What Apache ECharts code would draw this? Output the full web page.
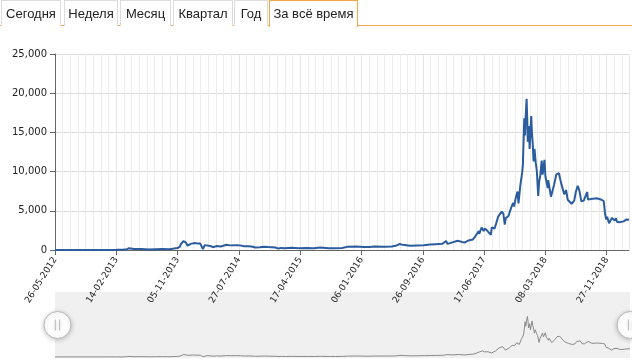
<!DOCTYPE html>
<html>
<head>
<meta charset="utf-8">
<script src="https://cdn.jsdelivr.net/npm/echarts@6/dist/echarts.min.js"></script>
<style>
  html, body { margin: 0; padding: 0; background: #fff; }
  body { width: 632px; height: 362px; overflow: hidden; position: relative; }
  #tabs { position: absolute; left: 0; top: 0; width: 632px; height: 26px; border-bottom: 1px solid #f0a848; box-sizing: border-box; }
  .tab { position: absolute; top: 0; height: 26px; box-sizing: border-box; border: 1px solid #dcdcdc; border-bottom: none;
         font-family: "Liberation Sans", Arial, sans-serif; font-size: 13px; color: #222; line-height: 25px; text-align: center; background: #fff; }
  .tab.active { border-color: #f0a848; height: 27px; }
  #chart { position: absolute; left: 0; top: 0; width: 632px; height: 362px; }
</style>
</head>
<body>
<div id="chart"></div>
<div id="tabs"></div>
<script>
const tabLabels = ["Сегодня", "Неделя", "Месяц", "Квартал", "Год", "За всё время"];
const tabLefts  = [1, 64, 120, 173, 234, 269];
const tabRights = [61, 118, 171, 233, 268, 358];
const activeTab = 5;

const startDate = "2012-05-26";
const endDate = "2019-03-03";
const labelStepDays = 264;

const dates = [
"2012-05-26","2012-07-15","2012-08-16","2012-08-20","2012-10-15","2012-12-31",
"2013-02-14","2013-03-15","2013-04-01","2013-04-10","2013-04-16","2013-05-01","2013-06-01","2013-07-05","2013-08-01","2013-09-01","2013-10-02","2013-10-20","2013-11-05","2013-11-15","2013-11-18","2013-11-30","2013-12-04","2013-12-10","2013-12-18","2013-12-23","2013-12-31",
"2014-01-06","2014-01-15","2014-01-31","2014-02-06","2014-02-10","2014-02-16","2014-02-22","2014-02-25","2014-03-02","2014-03-10","2014-03-25","2014-04-10","2014-04-20","2014-05-10","2014-06-03","2014-06-20","2014-07-15","2014-08-01","2014-08-18","2014-09-08","2014-09-25","2014-10-05","2014-10-25","2014-11-12","2014-12-01","2014-12-31",
"2015-01-14","2015-01-25","2015-02-10","2015-03-10","2015-04-14","2015-05-15","2015-06-15","2015-07-12","2015-08-18","2015-09-15","2015-10-15","2015-11-04","2015-11-11","2015-12-15",
"2016-01-15","2016-02-10","2016-03-01","2016-04-15","2016-05-15","2016-06-01","2016-06-17","2016-07-01","2016-08-02","2016-08-30","2016-09-30","2016-10-28","2016-11-20","2016-12-20",
"2017-01-04","2017-01-11","2017-01-31","2017-02-23","2017-03-03","2017-03-24","2017-04-10","2017-04-30","2017-05-10","2017-05-25","2017-05-27","2017-06-06","2017-06-11","2017-06-15","2017-06-20","2017-06-30","2017-07-08","2017-07-16","2017-07-20","2017-08-01","2017-08-08","2017-08-17","2017-08-22","2017-09-01","2017-09-08","2017-09-14","2017-09-18","2017-09-30","2017-10-12","2017-10-20","2017-10-24","2017-11-01","2017-11-08","2017-11-12","2017-11-20","2017-11-28","2017-12-01","2017-12-07","2017-12-10","2017-12-13","2017-12-17","2017-12-20","2017-12-22","2017-12-27","2017-12-30",
"2018-01-06","2018-01-09","2018-01-12","2018-01-16","2018-01-20","2018-01-25","2018-01-30","2018-02-05","2018-02-09","2018-02-14","2018-02-20","2018-02-24","2018-03-04","2018-03-08","2018-03-12","2018-03-18","2018-03-20","2018-04-01","2018-04-06","2018-04-15","2018-04-24","2018-05-05","2018-05-15","2018-05-28","2018-06-05","2018-06-12","2018-06-29","2018-07-10","2018-07-17","2018-07-25","2018-08-01","2018-08-10","2018-08-14","2018-08-20","2018-09-04","2018-09-07","2018-09-20","2018-10-15","2018-11-05","2018-11-14","2018-11-20","2018-11-25","2018-11-29","2018-12-07","2018-12-15","2018-12-20","2018-12-24","2018-12-31",
"2019-01-06","2019-01-10","2019-01-20","2019-01-28","2019-02-08","2019-02-19","2019-02-24","2019-03-03"
];
const prices = [
5.1,8,13,8,12,13.5,
27,47,105,230,68,117,129,68,105,140,110,180,250,430,700,1130,1200,980,550,720,780,
960,880,840,820,820,500,120,135,620,630,500,360,500,440,660,590,620,590,470,480,410,320,360,420,380,320,
180,270,220,290,220,240,235,310,230,230,255,400,310,460,
380,380,435,430,455,530,760,680,540,575,610,690,740,790,
1140,780,970,1180,1280,940,1200,1350,1750,2400,2050,2870,2960,2420,2760,2480,2560,1930,2870,2740,3400,4300,4090,4900,4600,3250,4050,4340,5440,6000,5550,6750,7450,5950,8250,9900,10900,16800,14600,17000,19300,16500,13800,15800,12900,
17100,14900,13800,11300,12900,11200,10100,6900,8700,9500,11400,9600,11500,9400,9300,7900,8900,6800,6600,8400,9650,9800,8500,7100,7650,6400,5900,6300,7400,8200,7600,6200,6250,6300,7400,6450,6500,6600,6400,6250,4600,3900,4250,3400,3200,4100,4000,3750,
4050,3600,3550,3450,3650,3900,3800,3850
];
const yTicks = [0, 5000, 10000, 15000, 20000, 25000];
// value range of the small overview chart under the main one
const overviewRange = [-500, 30900];

// tabs
const tabsEl = document.getElementById('tabs');
tabLabels.forEach((t, i) => {
  const d = document.createElement('div');
  d.className = 'tab' + (i === activeTab ? ' active' : '');
  d.style.left = tabLefts[i] + 'px';
  d.style.width = (tabRights[i] - tabLefts[i]) + 'px';
  d.textContent = t;
  tabsEl.appendChild(d);
});

const DAY = 86400000;
function toUTC(s) { const p = s.split('-').map(Number); return Date.UTC(p[0], p[1] - 1, p[2]); }
const t0 = toUTC(startDate);
function dayIdx(s) { return Math.round((toUTC(s) - t0) / DAY); }
function fmt(d) {
  const dt = new Date(t0 + d * DAY);
  const dd = String(dt.getUTCDate()).padStart(2, '0');
  const mm = String(dt.getUTCMonth() + 1).padStart(2, '0');
  return dd + '-' + mm + '-' + dt.getUTCFullYear();
}
const seriesData = dates.map((d, i) => [dayIdx(d), prices[i]]);
const maxDay = dayIdx(endDate);

const handlePath = 'path://M10,0A10,10,0,1,1,-10,0A10,10,0,1,1,10,0ZM-1.6,-4L-1.6,4M1.6,-4L1.6,4';

const chart = echarts.init(document.getElementById('chart'), null, { renderer: 'canvas' });
chart.setOption({
  animation: false,
  grid: [
    { left: 55, right: 3, top: 54, bottom: 112, containLabel: false },
    { left: 55, right: 2, top: 292, bottom: 4, show: true, backgroundColor: '#f0f0f0', borderWidth: 0 }
  ],
  xAxis: [{
    type: 'value', gridIndex: 0, min: 0, max: maxDay, interval: labelStepDays,
    axisLine: { show: true, lineStyle: { color: '#666', width: 1 } },
    axisTick: { show: true, length: 5, lineStyle: { color: '#666' } },
    axisLabel: {
      rotate: 58, margin: 8, color: '#222', fontFamily: 'DejaVu Sans', fontSize: 9,
      showMaxLabel: false,
      formatter: v => (v % labelStepDays === 0 ? fmt(v) : '')
    },
    splitLine: { show: true, lineStyle: { color: '#e6e6e6' } },
    minorTick: { show: false, splitNumber: 8 },
    minorSplitLine: { show: true, lineStyle: { color: '#ececec' } }
  }, {
    type: 'value', gridIndex: 1, min: 0, max: maxDay, show: false
  }],
  yAxis: [{
    type: 'value', gridIndex: 0, min: yTicks[0], max: yTicks[yTicks.length - 1], interval: yTicks[1] - yTicks[0],
    axisLine: { show: true, lineStyle: { color: '#666', width: 1 } },
    axisTick: { show: true, length: 5, lineStyle: { color: '#666' } },
    axisLabel: { color: '#222', fontFamily: 'DejaVu Sans', fontSize: 10, margin: 8 },
    splitLine: { show: true, lineStyle: { color: '#dcdcdc' } }
  }, {
    type: 'value', gridIndex: 1, min: overviewRange[0], max: overviewRange[1], show: false
  }],
  dataZoom: [{
    type: 'slider', xAxisIndex: [0, 1], start: 0, end: 100,
    left: 55, right: 2, top: 292, height: 66,
    showDetail: false, brushSelect: false, showDataShadow: false, moveHandleSize: 0,
    backgroundColor: 'rgba(0,0,0,0)', borderColor: 'transparent',
    fillerColor: 'rgba(0,0,0,0)',
    handleIcon: handlePath, handleSize: 27,
    handleStyle: { color: '#fff', borderColor: '#b8b8b8', borderWidth: 1, shadowBlur: 5, shadowColor: 'rgba(0,0,0,0.22)', shadowOffsetY: 1 },
    emphasis: { handleStyle: { color: '#fff', borderColor: '#b8b8b8' } }
  }],
  series: [{
    type: 'line', xAxisIndex: 0, yAxisIndex: 0, data: seriesData, showSymbol: false, symbol: 'none',
    lineStyle: { color: '#2b5c9e', width: 2 }, itemStyle: { color: '#2b5c9e' }
  }, {
    type: 'line', xAxisIndex: 1, yAxisIndex: 1, data: seriesData, showSymbol: false, symbol: 'none', silent: true,
    lineStyle: { color: '#8a8a8a', width: 1 }, itemStyle: { color: '#8a8a8a' }
  }]
});
</script>
</body>
</html>
